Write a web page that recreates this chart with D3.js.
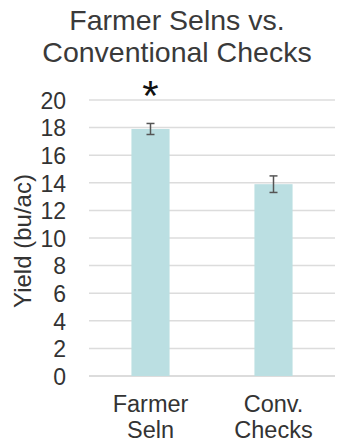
<!DOCTYPE html>
<html>
<head>
<meta charset="utf-8">
<script src="https://cdn.jsdelivr.net/npm/d3@7"></script>
<style>
  html, body { margin: 0; padding: 0; background: #fff; }
  svg { display: block; font-family: "Liberation Sans", Arial, Helvetica, sans-serif; }
</style>
</head>
<body>
<svg id="chart" width="338" height="444"></svg>
<script>
// Yield of farmer selections vs. conventional checks (bu/ac)
const categories = ["Farmer Seln", "Conv. Checks"];
const categoryLines = [["Farmer", "Seln"], ["Conv.", "Checks"]];
const yieldValues = [17.9, 13.9];
const errorValues = [0.4, 0.6];
const significance = ["*", ""];
const yTicks = [0, 2, 4, 6, 8, 10, 12, 14, 16, 18, 20];
const titleLines = ["Farmer Selns vs.", "Conventional Checks"];
const yAxisTitle = "Yield (bu/ac)";

const svg = d3.select("#chart");
const margin = { left: 89, right: 3, top: 100, bottom: 68 };
const W = 338, H = 444;

const x = d3.scaleBand()
  .domain(categories)
  .range([margin.left, W - margin.right])
  .paddingInner(0.69)
  .paddingOuter(0.345);

const y = d3.scaleLinear()
  .domain([0, 20])
  .range([H - margin.bottom, margin.top]);

// Title
svg.append("g")
  .selectAll("text")
  .data(titleLines)
  .join("text")
  .attr("x", 177)
  .attr("y", (d, i) => 29.5 + i * 32.5)
  .attr("text-anchor", "middle")
  .attr("font-size", 28.5)
  .attr("fill", "#3a3a3a")
  .text(d => d);

// Gridlines
svg.append("g")
  .selectAll("line")
  .data(yTicks)
  .join("line")
  .attr("x1", margin.left)
  .attr("x2", W - margin.right)
  .attr("y1", d => y(d))
  .attr("y2", d => y(d))
  .attr("stroke", d => d === 0 ? "#d0d0d0" : "#dcdcdc")
  .attr("stroke-width", 1.5);

// Y axis tick labels
const yAxis = d3.axisLeft(y).tickValues(yTicks).tickSize(0).tickPadding(0);
const yg = svg.append("g")
  .attr("transform", `translate(${margin.left - 23},0)`)
  .call(yAxis);
yg.select(".domain").remove();
yg.selectAll("text")
  .attr("font-size", 23)
  .attr("fill", "#333")
  .attr("font-family", "Liberation Sans, Arial, sans-serif")
  .attr("dy", "0.36em");

// Y axis title
svg.append("text")
  .attr("transform", `translate(31,${(y(0) + y(20)) / 2 + 3}) rotate(-90)`)
  .attr("text-anchor", "middle")
  .attr("font-size", 24)
  .attr("fill", "#333")
  .text(yAxisTitle);

// Bars
svg.append("g")
  .selectAll("rect")
  .data(categories)
  .join("rect")
  .attr("x", d => x(d))
  .attr("width", x.bandwidth())
  .attr("y", (d, i) => y(yieldValues[i]))
  .attr("height", (d, i) => y(0) - y(yieldValues[i]))
  .attr("fill", "#bbdfe2");

// Error bars
const eg = svg.append("g")
  .attr("stroke", "#555")
  .attr("stroke-width", 1.5);
categories.forEach((c, i) => {
  const cx = x(c) + x.bandwidth() / 2;
  const hi = y(yieldValues[i] + errorValues[i]);
  const lo = y(yieldValues[i] - errorValues[i]);
  eg.append("line").attr("x1", cx).attr("x2", cx).attr("y1", hi).attr("y2", lo);
  eg.append("line").attr("x1", cx - 4).attr("x2", cx + 4).attr("y1", hi).attr("y2", hi);
  eg.append("line").attr("x1", cx - 4).attr("x2", cx + 4).attr("y1", lo).attr("y2", lo);
});

// Significance marker
svg.append("g")
  .selectAll("text")
  .data(categories)
  .join("text")
  .attr("x", d => x(d) + x.bandwidth() / 2)
  .attr("y", 110)
  .attr("text-anchor", "middle")
  .attr("font-size", 42)
  .attr("fill", "#111")
  .text((d, i) => significance[i]);

// Category labels
categories.forEach((c, i) => {
  svg.append("text")
    .attr("text-anchor", "middle")
    .attr("font-size", 23.5)
    .attr("fill", "#333")
    .selectAll("tspan")
    .data(categoryLines[i])
    .join("tspan")
    .attr("x", x(c) + x.bandwidth() / 2)
    .attr("y", (d, j) => 411.5 + j * 26.5)
    .text(d => d);
});
</script>
</body>
</html>
